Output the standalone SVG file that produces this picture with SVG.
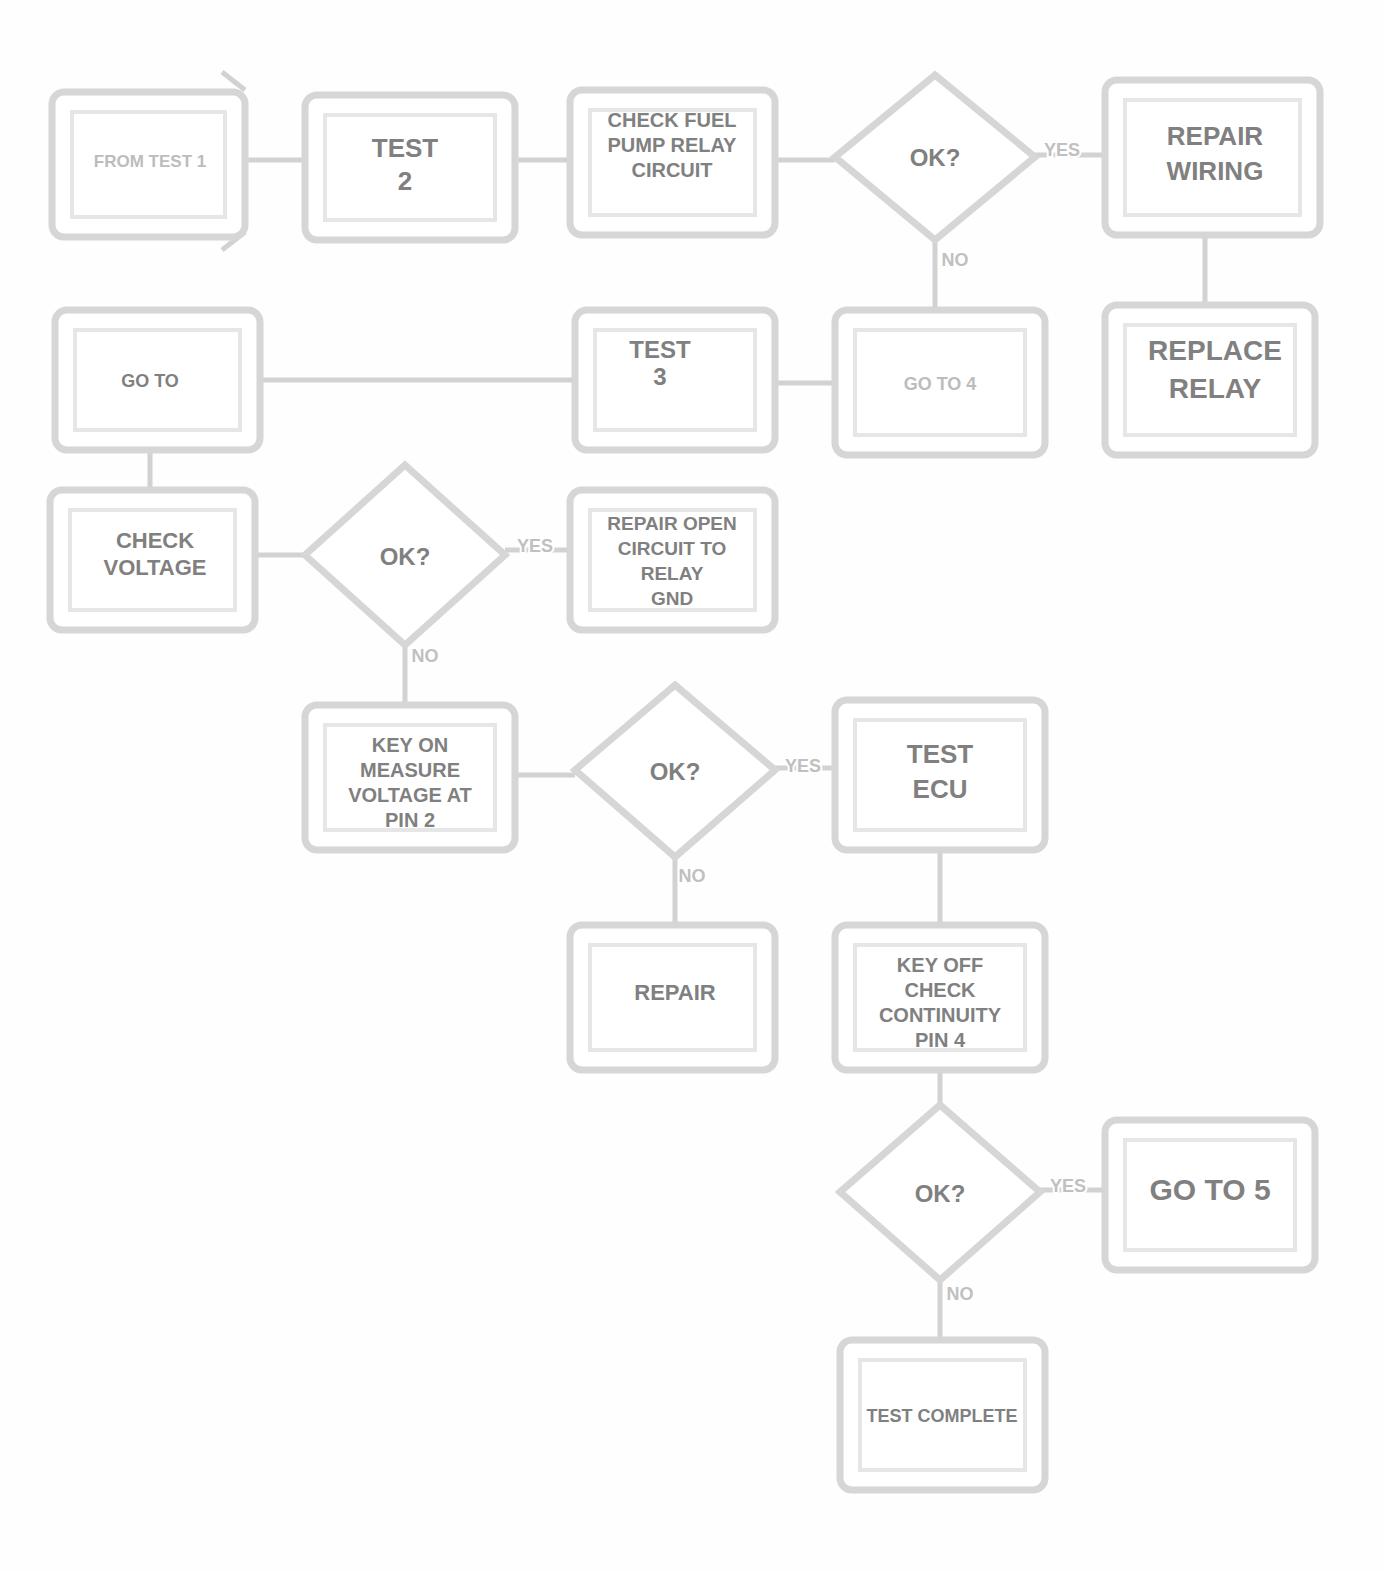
<svg xmlns="http://www.w3.org/2000/svg" width="1386" height="1572" viewBox="0 0 1386 1572">
<!-- NOTE: The reference image is too blurred to read any of its text. All node and connector labels below (e.g. "TEST 2", "OK?", "YES"/"NO") are placeholder guesses sized to the text blobs, not copies of the original wording. -->
<style>
.o{fill:#fff;stroke:#d6d6d6;stroke-width:7}
.i{fill:none;stroke:#e6e6e6;stroke-width:4}
.c{fill:none;stroke:#d2d2d2;stroke-width:5}
.t{font-family:"Liberation Sans",Arial,sans-serif;font-weight:bold;fill:#808080;text-anchor:middle}
.tl{font-family:"Liberation Sans",Arial,sans-serif;fill:#bcbcbc;text-anchor:middle;font-weight:bold}
.lb{font-family:"Liberation Sans",Arial,sans-serif;fill:#c0c0c0;text-anchor:middle;font-size:18px;font-weight:bold;paint-order:stroke;stroke:#fff;stroke-width:4}
</style>
<rect width="1386" height="1572" fill="#fefefe"/>
<g id="connectors">
<path class="c" d="M245 160 H305"/>
<path class="c" d="M515 160 H570"/>
<path class="c" d="M775 160 H835"/>
<path class="c" d="M1035 155 H1105"/>
<path class="c" d="M935 238 V310"/>
<path class="c" d="M1205 235 V305"/>
<path class="c" d="M775 383 H835"/>
<path class="c" d="M260 380 H575"/>
<path class="c" d="M150 450 V490"/>
<path class="c" d="M255 555 H305"/>
<path class="c" d="M505 550 H570"/>
<path class="c" d="M405 645 V705"/>
<path class="c" d="M515 775 H575"/>
<path class="c" d="M775 768 H835"/>
<path class="c" d="M675 855 V925"/>
<path class="c" d="M940 850 V925"/>
<path class="c" d="M940 1070 V1110"/>
<path class="c" d="M1040 1190 H1105"/>
<path class="c" d="M940 1280 V1340"/>
<path class="c" d="M222 72 L245 90"/>
<path class="c" d="M222 250 L245 232"/>
<text class="lb" x="1062" y="156">YES</text>
<text class="lb" x="955" y="266">NO</text>
<text class="lb" x="535" y="552">YES</text>
<text class="lb" x="425" y="662">NO</text>
<text class="lb" x="803" y="772">YES</text>
<text class="lb" x="692" y="882">NO</text>
<text class="lb" x="1068" y="1192">YES</text>
<text class="lb" x="960" y="1300">NO</text>
</g>
<g id="nA"><rect class="o" x="52" y="92" width="193" height="145" rx="12"/><rect class="i" x="72" y="112" width="153" height="105"/><text class="tl" x="150" y="167" font-size="17">FROM TEST 1</text></g>
<g id="nB"><rect class="o" x="305" y="95" width="210" height="145" rx="12"/><rect class="i" x="325" y="115" width="170" height="105"/><text class="t" x="405" y="157" font-size="26">TEST</text><text class="t" x="405" y="190" font-size="26">2</text></g>
<g id="nC"><rect class="o" x="570" y="90" width="205" height="145" rx="12"/><rect class="i" x="590" y="110" width="165" height="105"/><text class="t" x="672" y="127" font-size="20">CHECK FUEL</text><text class="t" x="672" y="152" font-size="20">PUMP RELAY</text><text class="t" x="672" y="177" font-size="20">CIRCUIT</text></g>
<g id="nD"><polygon class="o" points="935,75 1035,157 935,240 835,157"/><text class="t" x="935" y="166" font-size="24">OK?</text></g>
<g id="nE"><rect class="o" x="1105" y="80" width="215" height="155" rx="12"/><rect class="i" x="1125" y="100" width="175" height="115"/><text class="t" x="1215" y="145" font-size="26">REPAIR</text><text class="t" x="1215" y="180" font-size="26">WIRING</text></g>
<g id="nF"><rect class="o" x="55" y="310" width="205" height="140" rx="12"/><rect class="i" x="75" y="330" width="165" height="100"/><text class="t" x="150" y="387" font-size="18" fill="#a0a0a0">GO TO</text></g>
<g id="nG"><rect class="o" x="575" y="310" width="200" height="140" rx="12"/><rect class="i" x="595" y="330" width="160" height="100"/><text class="t" x="660" y="358" font-size="24">TEST</text><text class="t" x="660" y="385" font-size="24">3</text></g>
<g id="nH"><rect class="o" x="835" y="310" width="210" height="145" rx="12"/><rect class="i" x="855" y="330" width="170" height="105"/><text class="tl" x="940" y="390" font-size="18">GO TO 4</text></g>
<g id="nI"><rect class="o" x="1105" y="305" width="210" height="150" rx="12"/><rect class="i" x="1125" y="325" width="170" height="110"/><text class="t" x="1215" y="360" font-size="28">REPLACE</text><text class="t" x="1215" y="398" font-size="28">RELAY</text></g>
<g id="nJ"><rect class="o" x="50" y="490" width="205" height="140" rx="12"/><rect class="i" x="70" y="510" width="165" height="100"/><text class="t" x="155" y="548" font-size="22">CHECK</text><text class="t" x="155" y="575" font-size="22">VOLTAGE</text></g>
<g id="nK"><polygon class="o" points="405,465 505,555 405,645 305,555"/><text class="t" x="405" y="565" font-size="24">OK?</text></g>
<g id="nL"><rect class="o" x="570" y="490" width="205" height="140" rx="12"/><rect class="i" x="590" y="510" width="165" height="100"/><text class="t" x="672" y="530" font-size="19">REPAIR OPEN</text><text class="t" x="672" y="555" font-size="19">CIRCUIT TO</text><text class="t" x="672" y="580" font-size="19">RELAY</text><text class="t" x="672" y="605" font-size="19">GND</text></g>
<g id="nM"><rect class="o" x="305" y="705" width="210" height="145" rx="12"/><rect class="i" x="325" y="725" width="170" height="105"/><text class="t" x="410" y="752" font-size="20">KEY ON</text><text class="t" x="410" y="777" font-size="20">MEASURE</text><text class="t" x="410" y="802" font-size="20">VOLTAGE AT</text><text class="t" x="410" y="827" font-size="20">PIN 2</text></g>
<g id="nN"><polygon class="o" points="675,685 775,770 675,857 575,770"/><text class="t" x="675" y="780" font-size="24">OK?</text></g>
<g id="nO"><rect class="o" x="835" y="700" width="210" height="150" rx="12"/><rect class="i" x="855" y="720" width="170" height="110"/><text class="t" x="940" y="763" font-size="26">TEST</text><text class="t" x="940" y="798" font-size="26">ECU</text></g>
<g id="nP"><rect class="o" x="570" y="925" width="205" height="145" rx="12"/><rect class="i" x="590" y="945" width="165" height="105"/><text class="t" x="675" y="1000" font-size="22">REPAIR</text></g>
<g id="nQ"><rect class="o" x="835" y="925" width="210" height="145" rx="12"/><rect class="i" x="855" y="945" width="170" height="105"/><text class="t" x="940" y="972" font-size="20">KEY OFF</text><text class="t" x="940" y="997" font-size="20">CHECK</text><text class="t" x="940" y="1022" font-size="20">CONTINUITY</text><text class="t" x="940" y="1047" font-size="20">PIN 4</text></g>
<g id="nR"><polygon class="o" points="940,1105 1040,1192 940,1280 840,1192"/><text class="t" x="940" y="1202" font-size="24">OK?</text></g>
<g id="nS"><rect class="o" x="1105" y="1120" width="210" height="150" rx="12"/><rect class="i" x="1125" y="1140" width="170" height="110"/><text class="t" x="1210" y="1200" font-size="30">GO TO 5</text></g>
<g id="nT"><rect class="o" x="840" y="1340" width="205" height="150" rx="12"/><rect class="i" x="860" y="1360" width="165" height="110"/><text class="t" x="942" y="1422" font-size="18" fill="#a0a0a0">TEST COMPLETE</text></g>
</svg>
